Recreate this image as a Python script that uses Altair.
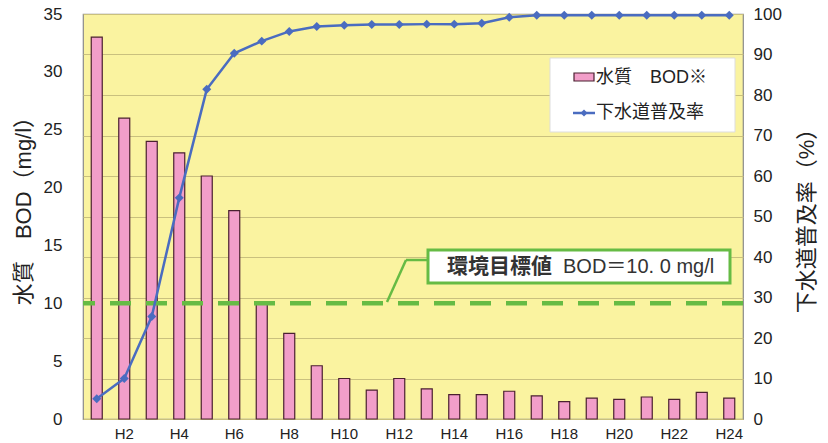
import altair as alt
import pandas as pd

years = ["H1", "H2", "H3", "H4", "H5", "H6", "H7", "H8", "H9", "H10", "H11", "H12",
         "H13", "H14", "H15", "H16", "H17", "H18", "H19", "H20", "H21", "H22", "H23", "H24"]
bod = [33, 26, 24, 23, 21, 18, 10, 7.4, 4.6, 3.5, 2.5, 3.5,
       2.6, 2.1, 2.1, 2.4, 2.0, 1.5, 1.8, 1.7, 1.9, 1.7, 2.3, 1.8]
sewer = [5, 10, 25.3, 54.6, 81.4, 90.3, 93.3, 95.7, 96.9, 97.2, 97.4, 97.4,
         97.5, 97.5, 97.7, 99.2, 99.7, 99.7, 99.7, 99.7, 99.7, 99.7, 99.7, 99.7]
target = [10.0]
left_ticks = [0, 5, 10, 15, 20, 25, 30, 35]
right_ticks = [0, 10, 20, 30, 40, 50, 60, 70, 80, 90, 100]
x_shown = ["H2", "H4", "H6", "H8", "H10", "H12", "H14", "H16", "H18", "H20", "H22", "H24"]

left_title = "水質\u3000BOD（mg/l）"
right_title = "下水道普及率（%）"
legend_bar = "水質\u3000BOD※"
legend_line = "下水道普及率"
note_bold = "環境目標値"
note_text = "BOD＝10. 0 mg/l"

df = pd.DataFrame({"year": years, "bod": bod, "sewer": sewer})
tdf = pd.DataFrame({"t": target})
one = pd.DataFrame({"a": [0]})

FONT = "Liberation Sans, Arial, 'Noto Sans CJK JP', sans-serif"
TXT = "#222222"
PINK = "#f29ec9"
BLUE = "#4a6cc0"
GREEN = "#66bb44"

xscale = alt.Scale(domain=years, paddingInner=0.6, paddingOuter=0.3)
xenc = alt.X("year:N", sort=years, scale=xscale,
             axis=alt.Axis(title=None, values=x_shown, labelAngle=0, ticks=False,
                           domain=False, labelFontSize=15, labelColor=TXT,
                           labelFont=FONT, labelPadding=7))

bars = alt.Chart(df).mark_bar(fill=PINK, stroke="#4a2030", strokeWidth=1.2).encode(
    x=xenc,
    y=alt.Y("bod:Q", scale=alt.Scale(domain=[0, 35], nice=False),
            axis=alt.Axis(values=left_ticks, grid=False, ticks=False, domain=False,
                          labelFontSize=17, labelColor=TXT, labelFont=FONT,
                          labelPadding=21, title=left_title, titleFont=FONT,
                          titleFontSize=22, titleFontWeight="normal", titleColor=TXT,
                          titleX=-60, titleY=191, titleBaseline="middle")),
)

rule = alt.Chart(tdf).mark_rule(color=GREEN, strokeWidth=4.5, strokeDash=[21, 15]).encode(
    y=alt.Y("t:Q", scale=alt.Scale(domain=[0, 35], nice=False), axis=None),
)

line = alt.Chart(df).mark_line(color=BLUE, strokeWidth=2.5,
                               point=alt.OverlayMarkDef(shape="diamond", size=80,
                                                        filled=True, color=BLUE)).encode(
    x=alt.X("year:N", sort=years, scale=xscale),
    y=alt.Y("sewer:Q", scale=alt.Scale(domain=[0, 100], nice=False),
            axis=alt.Axis(orient="right", values=right_ticks, grid=True,
                          gridColor="#c9c07e", gridWidth=1.2, ticks=False, domain=False,
                          labelFontSize=17, labelColor=TXT, labelFont=FONT,
                          labelPadding=10, title=right_title, titleFont=FONT,
                          titleFontSize=22, titleFontWeight="normal", titleColor=TXT,
                          titleAngle=270, titleX=63, titleY=201, titleBaseline="middle")),
)

# annotation for target line
lead1 = alt.Chart(one).mark_rule(color=GREEN, strokeWidth=2.5).encode(
    x=alt.value(304), y=alt.value(288), x2=alt.value(323), y2=alt.value(246))
lead2 = alt.Chart(one).mark_rule(color=GREEN, strokeWidth=2.5).encode(
    x=alt.value(323), y=alt.value(246), x2=alt.value(345), y2=alt.value(246))
note_box = alt.Chart(one).mark_rect(fill="white", stroke=GREEN, strokeWidth=3).encode(
    x=alt.value(345), x2=alt.value(647), y=alt.value(236), y2=alt.value(269))
note1 = alt.Chart(one).mark_text(font=FONT, fontSize=21, fontWeight="bold", color="#333333",
                                 align="left", baseline="middle").encode(
    x=alt.value(364), y=alt.value(253), text=alt.value(note_bold))
note2 = alt.Chart(one).mark_text(font=FONT, fontSize=20, color="#333333",
                                 align="left", baseline="middle").encode(
    x=alt.value(480), y=alt.value(253), text=alt.value(note_text))

# legend
leg_box = alt.Chart(one).mark_rect(fill="white", stroke="#dddddd", strokeWidth=1).encode(
    x=alt.value(467), x2=alt.value(652), y=alt.value(44), y2=alt.value(118))
leg_sw = alt.Chart(one).mark_rect(fill=PINK, stroke="#4a2030", strokeWidth=1.2).encode(
    x=alt.value(491), x2=alt.value(511), y=alt.value(59), y2=alt.value(67))
leg_ln = alt.Chart(one).mark_rule(color=BLUE, strokeWidth=2.5).encode(
    x=alt.value(490), x2=alt.value(512), y=alt.value(99))
leg_pt = alt.Chart(one).mark_point(shape="diamond", size=50, filled=True, color=BLUE,
                                   opacity=1).encode(x=alt.value(501), y=alt.value(99))
leg_t1 = alt.Chart(one).mark_text(font=FONT, fontSize=18, color=TXT, align="left",
                                  baseline="middle").encode(
    x=alt.value(513), y=alt.value(64), text=alt.value(legend_bar))
leg_t2 = alt.Chart(one).mark_text(font=FONT, fontSize=18, color=TXT, align="left",
                                  baseline="middle").encode(
    x=alt.value(513), y=alt.value(99), text=alt.value(legend_line))

chart = alt.layer(
    bars, rule, line, lead1, lead2, note_box, note1, note2,
    leg_box, leg_sw, leg_ln, leg_pt, leg_t1, leg_t2,
).resolve_scale(y="independent").properties(
    width=660, height=405,
    padding={"left": 83, "top": 14, "right": 85, "bottom": 24},
    autosize=alt.AutoSizeParams(type="none"),
    background="white",
).configure_view(fill="#faf3a0", stroke="#8a8a8a", strokeWidth=1.2)

chart.save("out.html", embed_options={"renderer": "svg", "actions": False})
